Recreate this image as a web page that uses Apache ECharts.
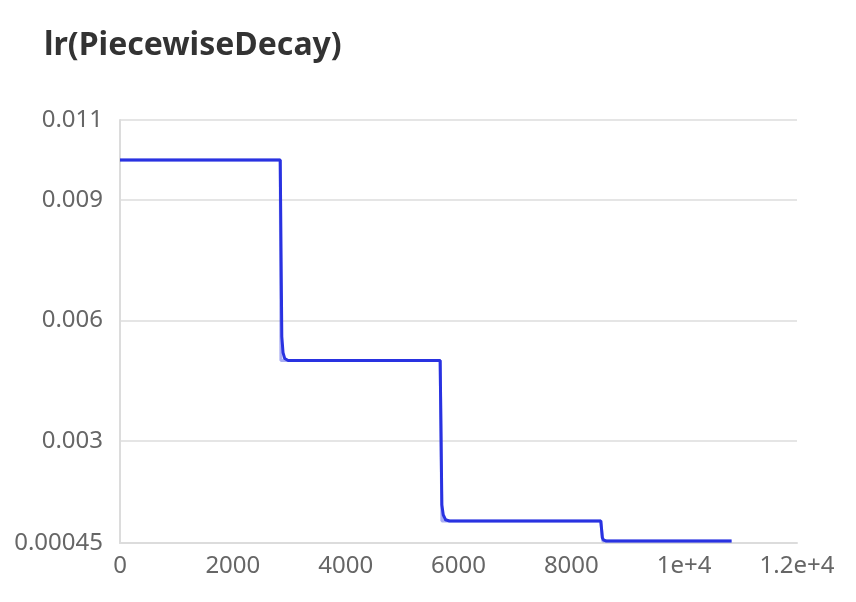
<!DOCTYPE html>
<html>
<head>
<meta charset="utf-8">
<script src="https://cdn.jsdelivr.net/npm/echarts@6/dist/echarts.min.js"></script>
<style>
  html, body { margin: 0; padding: 0; background: #fff; }
  #chart { width: 856px; height: 602px; }
</style>
</head>
<body>
<div id="chart"></div>
<script>
// ---- data ----
const titleText = 'lr(PiecewiseDecay)';

// raw (faint) series
const rawSteps  = [0, 2840, 2852, 5675, 5705, 8522, 8556, 10840];
const rawValues = [0.01, 0.01, 0.005, 0.005, 0.001, 0.001, 0.0005, 0.0005];

// smoothed series
const smoothSteps  = [0, 2840, 2868, 2890, 2920, 2980, 5675, 5705, 5730, 5770, 5840, 8522, 8550, 8575, 8620, 10840];
const smoothValues = [0.01, 0.01, 0.0056, 0.0052, 0.00505, 0.005, 0.005, 0.0014, 0.00115, 0.00103, 0.001, 0.001, 0.00058, 0.00052, 0.0005, 0.0005];

const yTickValues = [0.00045, 0.003, 0.006, 0.009, 0.011];
const yTickLabels = ['0.00045', '0.003', '0.006', '0.009', '0.011'];
const xTickValues = [0, 2000, 4000, 6000, 8000, 10000, 12000];
const xTickLabels = ['0', '2000', '4000', '6000', '8000', '1e+4', '1.2e+4'];

const yMin = 0.00045, yMax = 0.011;
const xMin = 0, xMax = 12000;

const rawData = rawSteps.map((s, i) => [s, rawValues[i]]);
const smoothData = smoothSteps.map((s, i) => [s, smoothValues[i]]);

const font = '"Noto Sans", "Open Sans", sans-serif';
const chart = echarts.init(document.getElementById('chart'), null, { renderer: 'canvas' });
chart.setOption({
  animation: false,
  title: {
    text: titleText,
    left: 39,
    top: 25,
    textStyle: { fontFamily: font, fontSize: 32, fontWeight: 'bold', color: '#333' }
  },
  grid: { left: 120, right: 59, top: 120, bottom: 59, containLabel: false },
  xAxis: {
    type: 'value',
    min: xMin,
    max: xMax,
    interval: 2000,
    axisLine: { show: true, lineStyle: { color: '#dcdcdc', width: 2 } },
    axisTick: { show: false },
    splitLine: { show: false },
    axisLabel: {
      margin: 11,
      fontFamily: font,
      fontSize: 24,
      color: '#666',
      formatter: function (v) {
        const i = xTickValues.indexOf(v);
        return i >= 0 ? xTickLabels[i] : '';
      }
    }
  },
  yAxis: {
    type: 'value',
    min: yMin,
    max: yMax,
    axisLine: { show: true, lineStyle: { color: '#dcdcdc', width: 2 } },
    axisTick: { show: false, customValues: yTickValues },
    splitLine: { show: true, lineStyle: { color: '#dcdcdc', width: 1.5 } },
    axisLabel: {
      customValues: yTickValues,
      margin: 17,
      fontFamily: font,
      fontSize: 24,
      color: '#666',
      formatter: function (v) {
        let best = 0, bd = Infinity;
        yTickValues.forEach((t, i) => { const d = Math.abs(t - v); if (d < bd) { bd = d; best = i; } });
        return yTickLabels[best];
      }
    }
  },
  series: [
    {
      type: 'line',
      data: rawData,
      showSymbol: false,
      lineStyle: { color: '#2932E1', width: 3, opacity: 0.4 },
      z: 2
    },
    {
      type: 'line',
      data: smoothData,
      showSymbol: false,
      smooth: false,
      lineStyle: { color: '#2932E1', width: 3 },
      z: 3
    }
  ]
});
</script>
</body>
</html>
